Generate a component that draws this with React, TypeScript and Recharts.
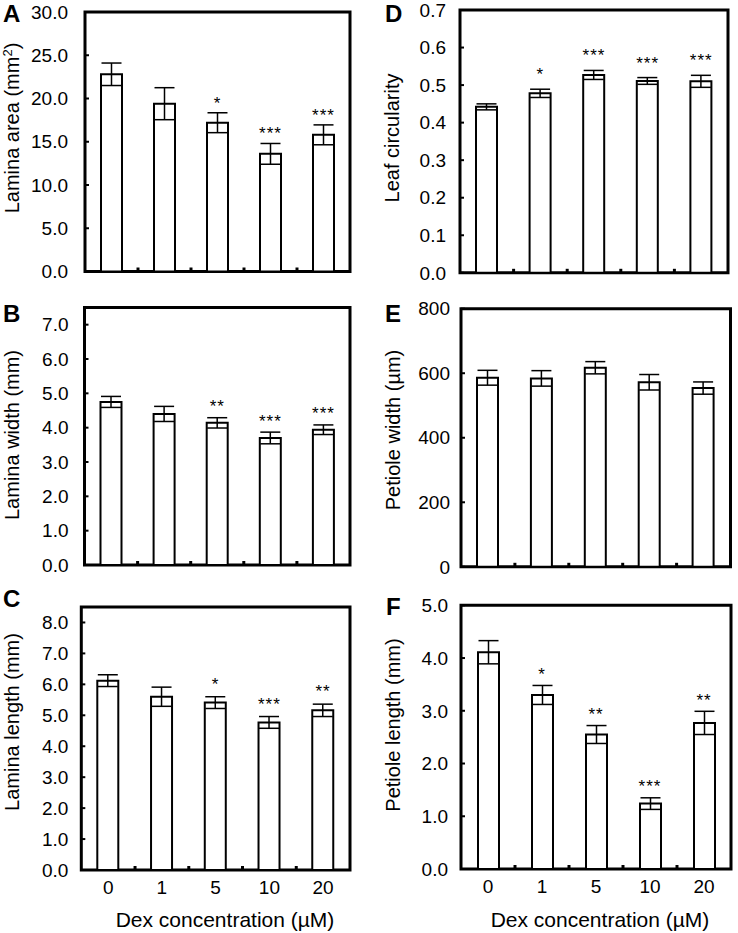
import {
  ComposedChart,
  Bar,
  Line,
  XAxis,
  YAxis,
  ErrorBar,
  LabelList,
  ReferenceArea,
} from 'recharts';

const FONT = 'Liberation Sans, Arial, Helvetica, sans-serif';

// Dex concentration categories (µM)
const dex = ['0', '1', '5', '10', '20'];

// A - lamina area (mm2)
const laminaArea = [22.8, 19.4, 17.2, 13.6, 15.8];
const laminaAreaErr = [1.3, 1.85, 1.15, 1.2, 1.15];
const laminaAreaSig = ['', '', '*', '***', '***'];
const laminaAreaTicks = [0, 5, 10, 15, 20, 25, 30];

// B - lamina width (mm)
const laminaWidth = [4.75, 4.4, 4.14, 3.7, 3.94];
const laminaWidthErr = [0.16, 0.22, 0.15, 0.17, 0.14];
const laminaWidthSig = ['', '', '**', '***', '***'];
const laminaWidthTicks = [0, 1, 2, 3, 4, 5, 6, 7];

// C - lamina length (mm)
const laminaLength = [6.12, 5.6, 5.41, 4.77, 5.16];
const laminaLengthErr = [0.19, 0.31, 0.19, 0.19, 0.2];
const laminaLengthSig = ['', '', '*', '***', '**'];
const laminaLengthTicks = [0, 1, 2, 3, 4, 5, 6, 7, 8];

// D - leaf circularity
const circularity = [0.442, 0.478, 0.527, 0.511, 0.51];
const circularityErr = [0.008, 0.011, 0.012, 0.009, 0.016];
const circularitySig = ['', '*', '***', '***', '***'];
const circularityTicks = [0, 0.1, 0.2, 0.3, 0.4, 0.5, 0.6, 0.7];

// E - petiole width (µm)
const petioleWidth = [586, 584, 617, 572, 554];
const petioleWidthErr = [23, 24, 19, 24, 19];
const petioleWidthSig = ['', '', '', '', ''];
const petioleWidthTicks = [0, 200, 400, 600, 800];

// F - petiole length (mm)
const petioleLength = [4.11, 3.3, 2.55, 1.24, 2.77];
const petioleLengthErr = [0.22, 0.18, 0.17, 0.11, 0.22];
const petioleLengthSig = ['', '*', '**', '***', '**'];
const petioleLengthTicks = [0, 1, 2, 3, 4, 5];

interface PanelDef {
  mean: number[];
  err: number[];
  sig: string[];
  ticks: number[];
  yMax: number;
  digits: number;
  showX: boolean;
  // layout
  left: number;
  top: number;
  height: number;
  mTop: number;
  mRight: number;
  mBottom: number;
  yWidth: number;
  tickGap: number;
  starOffset: number;
}

const panels: PanelDef[] = [
  {
    mean: laminaArea, err: laminaAreaErr, sig: laminaAreaSig, ticks: laminaAreaTicks,
    yMax: 30, digits: 1, showX: false,
    left: 0, top: 0, height: 290, mTop: 12, mRight: 19, mBottom: 17.5, yWidth: 85, tickGap: 21, starOffset: 4,
  },
  {
    mean: laminaWidth, err: laminaWidthErr, sig: laminaWidthSig, ticks: laminaWidthTicks,
    yMax: 7.5, digits: 1, showX: false,
    left: 0, top: 290, height: 290, mTop: 17.5, mRight: 19, mBottom: 14, yWidth: 84.5, tickGap: 20, starOffset: 5.5,
  },
  {
    mean: laminaLength, err: laminaLengthErr, sig: laminaLengthSig, ticks: laminaLengthTicks,
    yMax: 8.5, digits: 1, showX: true,
    left: 0, top: 580, height: 353, mTop: 27, mRight: 19, mBottom: 33, yWidth: 81.3, tickGap: 17, starOffset: 7,
  },
  {
    mean: circularity, err: circularityErr, sig: circularitySig, ticks: circularityTicks,
    yMax: 0.7, digits: 1, showX: false,
    left: 369, top: 0, height: 290, mTop: 10, mRight: 10, mBottom: 16.2, yWidth: 91, tickGap: 18, starOffset: 9,
  },
  {
    mean: petioleWidth, err: petioleWidthErr, sig: petioleWidthSig, ticks: petioleWidthTicks,
    yMax: 800, digits: 0, showX: false,
    left: 369, top: 290, height: 290, mTop: 18.7, mRight: 7.5, mBottom: 12.2, yWidth: 92, tickGap: 15, starOffset: 6,
  },
  {
    mean: petioleLength, err: petioleLengthErr, sig: petioleLengthSig, ticks: petioleLengthTicks,
    yMax: 5, digits: 1, showX: true,
    left: 369, top: 580, height: 353, mTop: 25.3, mRight: 7, mBottom: 34, yWidth: 92, tickGap: 17, starOffset: 5.5,
  },
];

interface TickProps {
  x?: number;
  y?: number;
  index?: number;
  payload?: { value?: string; offset?: number };
  showLabel?: boolean;
}

// category tick: optional label under the band centre, plus a short inward
// mark on the boundary to the left of every band but the first
function DexTick({ x = 0, y = 0, index = 0, payload, showLabel }: TickProps) {
  const half = payload?.offset ?? 0;
  return (
    <g>
      {index > 0 && half > 0 && (
        <line x1={x - half} x2={x - half} y1={y} y2={y - 4} stroke="#000" strokeWidth={3} />
      )}
      {showLabel && (
        <text x={x} y={y + 11} dy="0.71em" textAnchor="middle" fontSize={19} fontFamily={FONT} fill="#000">
          {payload?.value}
        </text>
      )}
    </g>
  );
}

function Panel({ p }: { p: PanelDef }) {
  const rows = dex.map((d, i) => ({
    dex: d,
    mean: p.mean[i],
    err: p.err[i],
    top: p.mean[i] + p.err[i],
    sig: p.sig[i],
  }));

  return (
    <div style={{ position: 'absolute', left: p.left, top: p.top }}>
      <ComposedChart
        width={369}
        height={p.height}
        data={rows}
        margin={{ top: p.mTop, right: p.mRight, bottom: p.mBottom, left: 0 }}
      >
        <XAxis
          dataKey="dex"
          height={p.showX ? 30 : 1}
          interval={0}
          axisLine={false}
          tickLine={false}
          tickSize={0}
          tickMargin={0}
          tick={<DexTick showLabel={p.showX} />}
        />
        <YAxis
          width={p.yWidth}
          type="number"
          domain={[0, p.yMax]}
          ticks={p.ticks}
          interval={0}
          axisLine={false}
          tickSize={-4}
          tickMargin={p.tickGap}
          tickLine={{ stroke: '#000', strokeWidth: 2 }}
          tick={{ fontSize: 19, fill: '#000', fontFamily: FONT }}
          tickFormatter={(v: number) => v.toFixed(p.digits)}
        />
        <Bar
          dataKey="mean"
          barSize={21}
          fill="#fff"
          stroke="#000"
          strokeWidth={2}
          isAnimationActive={false}
        >
          <ErrorBar dataKey="err" width={10} stroke="#000" strokeWidth={1.5} />
        </Bar>
        <Line
          dataKey="top"
          stroke="none"
          dot={false}
          activeDot={false}
          isAnimationActive={false}
        >
          <LabelList
            dataKey="sig"
            position="top"
            offset={p.starOffset}
            style={{ fontSize: 17, fill: '#000', fontFamily: FONT, letterSpacing: 1 }}
          />
        </Line>
        <ReferenceArea y1={0} y2={p.yMax} fill="none" stroke="#000" strokeWidth={3} />
      </ComposedChart>
    </div>
  );
}

function YTitle({ x, y, children }: { x: number; y: number; children: React.ReactNode }) {
  return (
    <text
      x={x}
      y={y}
      transform={`rotate(-90 ${x} ${y})`}
      textAnchor="middle"
      fontSize={20}
      fontFamily={FONT}
      fill="#000"
    >
      {children}
    </text>
  );
}

function Letter({ x, y, t }: { x: number; y: number; t: string }) {
  return (
    <text x={x} y={y} fontSize={24} fontWeight="bold" fontFamily={FONT} fill="#000">
      {t}
    </text>
  );
}

export default function App() {
  return (
    <div
      style={{
        position: 'absolute',
        left: 0,
        top: 0,
        width: 738,
        height: 933,
        background: '#fff',
        fontFamily: FONT,
      }}
    >
      {panels.map((p, i) => (
        <Panel key={i} p={p} />
      ))}
      <svg
        width={738}
        height={933}
        style={{ position: 'absolute', left: 0, top: 0, pointerEvents: 'none' }}
      >
        <Letter x={3} y={22} t="A" />
        <Letter x={3} y={322} t="B" />
        <Letter x={3} y={607} t="C" />
        <Letter x={385} y={22} t="D" />
        <Letter x={385} y={322} t="E" />
        <Letter x={386} y={615} t="F" />

        <YTitle x={19} y={128}>
          Lamina area (mm
          <tspan dy={-7} fontSize={13}>2</tspan>
          <tspan dy={7}>)</tspan>
        </YTitle>
        <YTitle x={19} y={435}>Lamina width (mm)</YTitle>
        <YTitle x={19} y={722}>Lamina length (mm)</YTitle>
        <YTitle x={399} y={138}>Leaf circularity</YTitle>
        <YTitle x={400} y={430}>Petiole width (µm)</YTitle>
        <YTitle x={400} y={725}>Petiole length (mm)</YTitle>

        <text x={225} y={927} textAnchor="middle" fontSize={21} fontFamily={FONT} fill="#000">
          Dex concentration (µM)
        </text>
        <text x={600} y={927} textAnchor="middle" fontSize={21} fontFamily={FONT} fill="#000">
          Dex concentration (µM)
        </text>
      </svg>
    </div>
  );
}
